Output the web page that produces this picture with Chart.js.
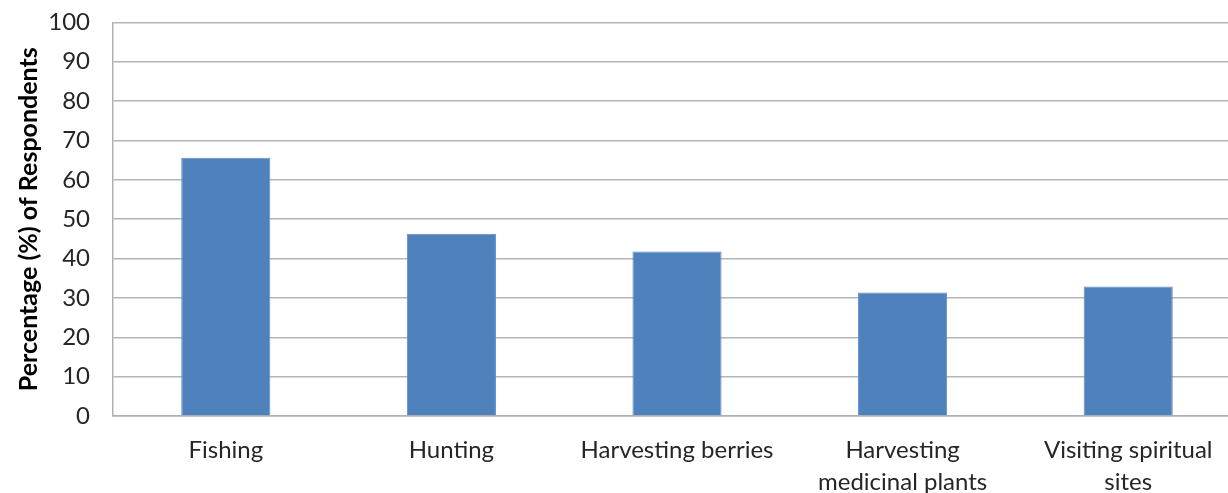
<!DOCTYPE html>
<html>
<head>
<meta charset="utf-8">
<script src="https://cdn.jsdelivr.net/npm/chart.js@4/dist/chart.umd.min.js"></script>
<style>
  html, body { margin: 0; padding: 0; background: #fff; overflow: hidden; }
  #wrap { width: 1228px; height: 493px; position: relative; overflow: hidden; }
  #c { position: absolute; left: 0; top: -15px; }
</style>
</head>
<body>
<div id="wrap"><canvas id="c" width="1241" height="508"></canvas></div>
<script>
const categories = ["Fishing", ["Hunting"], "Harvesting berries", ["Harvesting", "medicinal plants"], ["Visiting spiritual", "sites"]];
const values = [65.6, 46.3, 41.8, 31.4, 32.9];
const yTicks = [0, 10, 20, 30, 40, 50, 60, 70, 80, 90, 100];
const yTitle = "Percentage (%) of Respondents";

const FONT = "Lato";
new Chart(document.getElementById('c'), {
  type: 'bar',
  data: {
    labels: categories,
    datasets: [{
      data: values,
      backgroundColor: '#4f81bd',
      borderColor: '#5b8cc6',
      borderWidth: 1,
      barPercentage: 0.395,
      categoryPercentage: 1.0
    }]
  },
  options: {
    responsive: false,
    animation: false,
    devicePixelRatio: 1,
    layout: { padding: { left: 0, right: 0, top: 0, bottom: 0 } },
    plugins: { legend: { display: false }, tooltip: { enabled: false } },
    scales: {
      x: {
        grid: { display: false, drawTicks: false },
        border: { display: true, color: '#b0b0b0', width: 1.5 },
        ticks: {
          color: '#262626',
          font: { family: FONT, size: 24, lineHeight: 1.3 },
          padding: 19,
          maxRotation: 0,
          autoSkip: false
        },
        afterFit: (s) => { s.height = 77; }
      },
      y: {
        min: 0, max: 100,
        afterBuildTicks: (s) => { s.ticks = yTicks.map(v => ({ value: v })); },
        grid: { color: '#b5b5b5', lineWidth: 1.5, drawTicks: false },
        border: { display: true, color: '#b0b0b0', width: 1.5 },
        ticks: {
          color: '#262626',
          font: { family: FONT, size: 24 },
          padding: 23
        },
        title: {
          display: true,
          text: yTitle,
          color: '#000',
          font: { family: FONT, size: 25, weight: 'bold' },
          padding: { top: 14, bottom: 0 }
        },
        afterFit: (s) => { s.width = 113; }
      }
    }
  }
});
</script>
</body>
</html>
